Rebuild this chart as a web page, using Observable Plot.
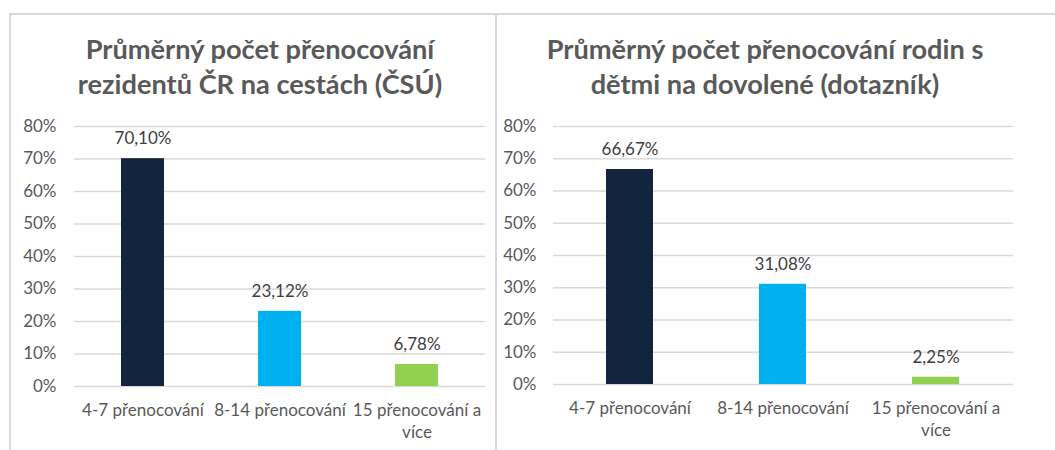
<!DOCTYPE html>
<html><head><meta charset="utf-8">
<script src="https://cdn.jsdelivr.net/npm/d3@7"></script>
<script src="https://cdn.jsdelivr.net/npm/@observablehq/plot@0.6"></script>
<style>
body{margin:0;background:#fff;}
#wrap{position:relative;width:1055px;height:450px;overflow:hidden;font-family:Lato,sans-serif;}
.line{position:absolute;background:#d9d9d9;}
.title{position:absolute;text-align:center;font-weight:bold;color:#595959;font-size:27.2px;line-height:35px;white-space:pre-line;width:500px;}
.plot{position:absolute;top:110px;}
</style></head><body>
<div id="wrap">
  <div class="line" style="left:9px;top:13px;width:1046px;height:2px"></div>
  <div class="line" style="left:9px;top:13px;width:2px;height:437px"></div>
  <div class="line" style="left:495px;top:13px;width:2px;height:437px"></div>
  <div class="title" id="t1" style="left:10px;top:31px"></div>
  <div class="title" id="t2" style="left:515px;top:31px"></div>
  <div class="plot" id="p1" style="left:0px"></div>
  <div class="plot" id="p2" style="left:497px"></div>
</div>
<script>
const categories = ["4-7 přenocování", "8-14 přenocování", "15 přenocování a více"];
const valuesCSU = [70.10, 23.12, 6.78];
const valuesSurvey = [66.67, 31.08, 2.25];
const barColors = ["#13243F", "#00B0F0", "#92D050"];
const yTicks = [0, 10, 20, 30, 40, 50, 60, 70, 80];
const title1 = "Průměrný počet přenocování\nrezidentů ČR na cestách (ČSÚ)";
const title2 = "Průměrný počet přenocování rodin s\ndětmi na dovolené (dotazník)";

document.getElementById("t1").textContent = title1;
document.getElementById("t2").textContent = title2;

function makeChart(values, opts) {
  const data = categories.map((c, i) => ({cat: c, v: values[i], color: barColors[i]}));
  return Plot.plot({
    width: opts.width,
    height: 340,
    marginTop: 16,
    marginBottom: opts.marginBottom,
    marginLeft: opts.marginLeft,
    marginRight: opts.marginRight,
    style: {fontFamily: "Lato, sans-serif", fontSize: "17px", color: "#595959", background: "transparent"},
    x: {domain: categories, paddingInner: opts.padding, paddingOuter: opts.padding / 2, label: null},
    y: {domain: [0, 80], label: null},
    marks: [
      Plot.ruleY(yTicks, {stroke: "#d9d9d9", strokeWidth: 1.5}),
      Plot.barY(data, {x: "cat", y: "v", fill: "color"}),
      Plot.text(data, {x: "cat", y: "v", text: d => d.v.toFixed(2).replace(".", ",") + "%", dy: -20, fill: "#404040", fontSize: 17}),
      Plot.axisY({ticks: yTicks, tickSize: 0, tickPadding: opts.yPad, tickFormat: d => d + "%", fontSize: 17}),
      Plot.axisX({tickSize: 0, tickPadding: 14, tickFormat: d => d.replace(" a více", " a\nvíce"), fontSize: 17, lineHeight: 1.3})
    ]
  });
}

document.getElementById("p1").appendChild(makeChart(valuesCSU, {width: 497, marginLeft: 74, marginRight: 12, marginBottom: 64, padding: 0.685, yPad: 18}));
document.getElementById("p2").appendChild(makeChart(valuesSurvey, {width: 558, marginLeft: 56, marginRight: 42, marginBottom: 66, padding: 0.69, yPad: 17}));
</script>
</body></html>
